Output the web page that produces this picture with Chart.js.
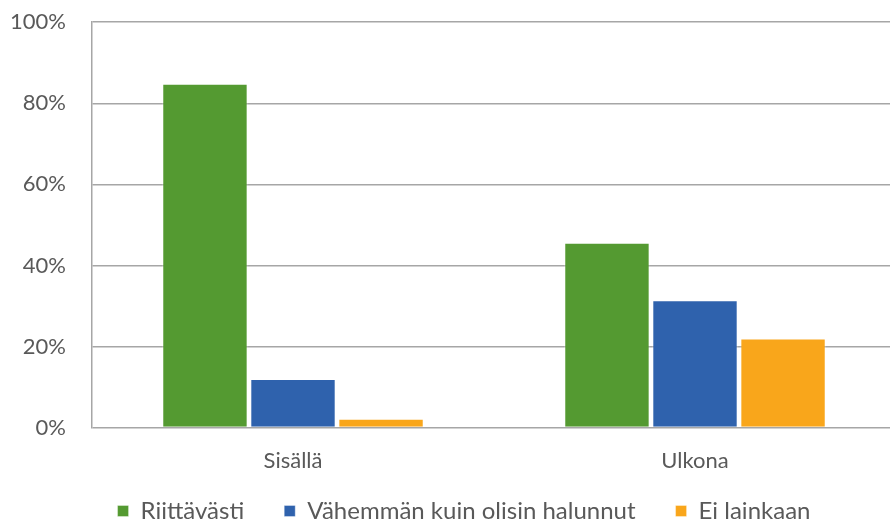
<!DOCTYPE html>
<html>
<head>
<meta charset="utf-8">
<script src="https://cdn.jsdelivr.net/npm/chart.js@4"></script>
<style>
  html, body { margin: 0; padding: 0; background: #ffffff; overflow: hidden; }
  /* plot runs a few px past the right edge, like the original */
  #wrap { width: 896px; height: 521px; position: relative; }
</style>
</head>
<body>
<div id="wrap"><canvas id="chart"></canvas></div>
<script>
// categories / series (shares, %)
const categories = ['Sisällä', 'Ulkona'];
const seriesNames = ['Riittävästi', 'Vähemmän kuin olisin halunnut', 'Ei lainkaan'];
const riittavasti = [84.8, 45.6];
const vahemman = [12.0, 31.4];
const eiLainkaan = [2.2, 22.0];
const yTicks = [0, 20, 40, 60, 80, 100];

const colors = ['#549a31', '#2f62ad', '#f9a61b'];
const gridColor = '#a6a6a6';
const textColor = '#595959';
const font = "Lato, 'Open Sans', sans-serif";

// legend sits lower and a bit right of where chart.js would put it
const legendPlace = {
  id: 'legendPlace',
  afterLayout(chart) {
    const lg = chart.legend;
    lg.top = chart.height - 62;
    lg.left = 32;
  }
};

const ctx = document.getElementById('chart').getContext('2d');

new Chart(ctx, {
  type: 'bar',
  data: {
    labels: categories,
    datasets: [riittavasti, vahemman, eiLainkaan].map((values, i) => ({
      label: seriesNames[i],
      data: values,
      backgroundColor: colors[i],
      borderColor: 'rgba(255,255,255,0.35)',
      borderWidth: 1,
      barPercentage: 0.97,
      categoryPercentage: 0.657,
    }))
  },
  options: {
    responsive: true,
    maintainAspectRatio: false,
    animation: false,
    layout: { padding: { top: 0, left: 0, right: 0, bottom: -39 } },
    plugins: {
      tooltip: { enabled: false },
      legend: {
        position: 'bottom',
        labels: {
          color: textColor,
          font: { family: font, size: 24 },
          boxWidth: 11,
          boxHeight: 11,
          padding: 40,
        }
      }
    },
    scales: {
      x: {
        grid: { display: false },
        border: { display: false },
        ticks: {
          color: textColor,
          font: { family: font, size: 22 },
          padding: 12,
        }
      },
      y: {
        min: 0,
        max: 100,
        afterBuildTicks: (axis) => { axis.ticks = yTicks.map(v => ({ value: v })); },
        afterFit: (axis) => { axis.width = 92; },
        grid: {
          color: gridColor,
          lineWidth: 1.5,
          tickLength: 17,
          tickColor: 'transparent',
        },
        border: { display: true, color: gridColor, width: 1.5 },
        ticks: {
          color: textColor,
          font: { family: font, size: 22 },
          padding: 9,
          callback: (v) => v + '%',
        }
      }
    }
  },
  plugins: [legendPlace]
});
</script>
</body>
</html>
